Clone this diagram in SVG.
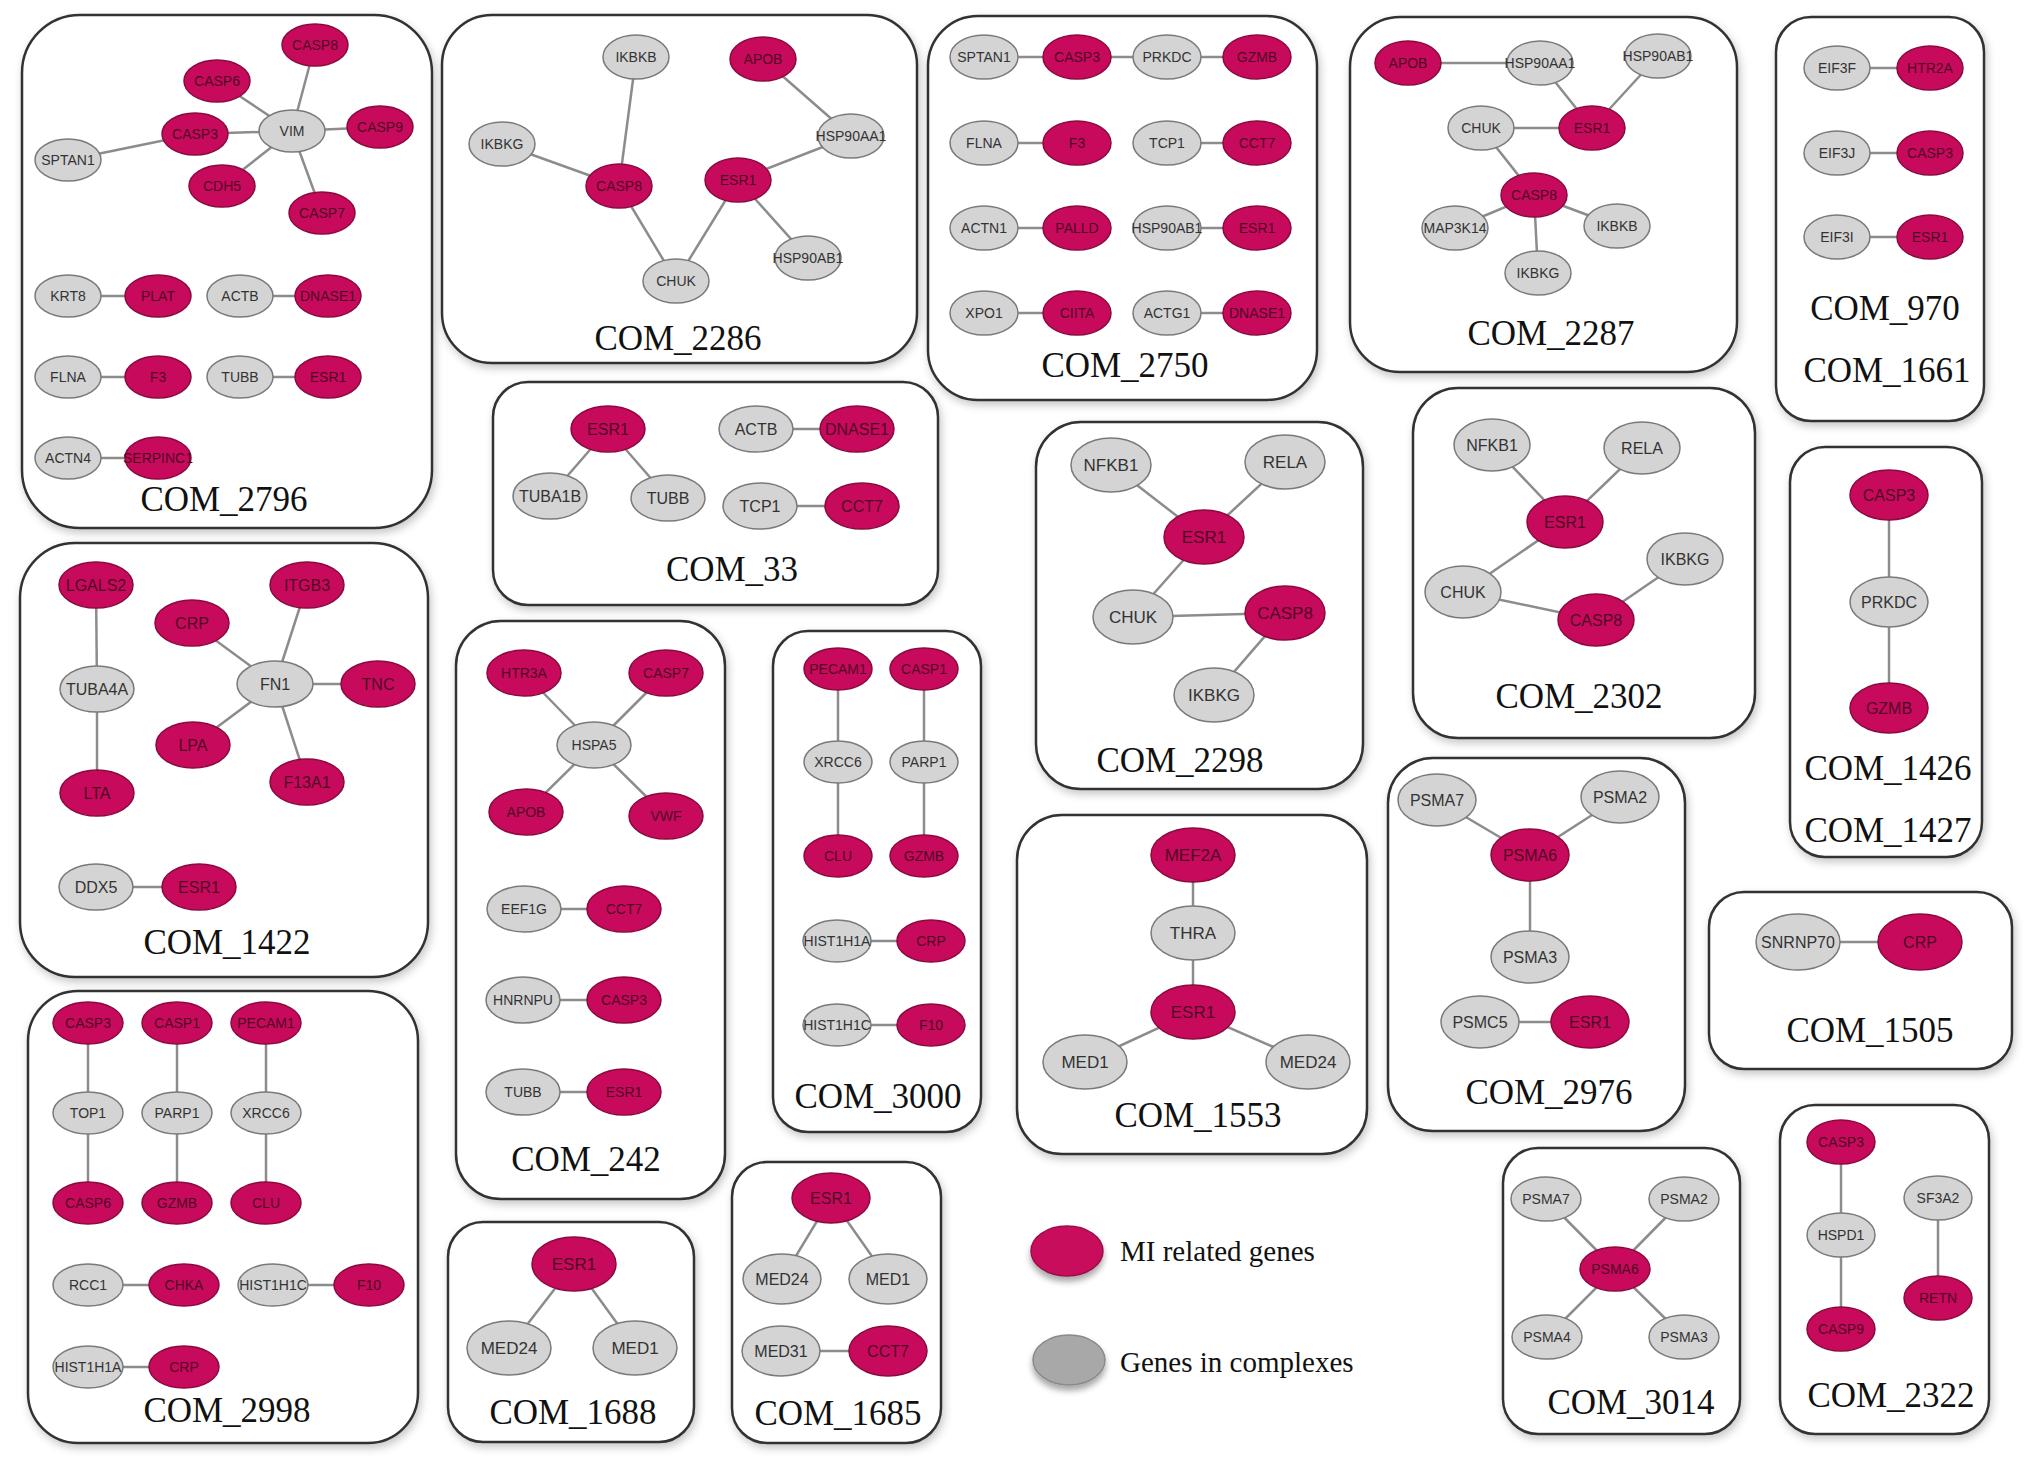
<svg xmlns="http://www.w3.org/2000/svg" width="2031" height="1469" viewBox="0 0 2031 1469">
<defs>
<filter id="sh" x="-10%" y="-10%" width="120%" height="120%"><feDropShadow dx="2" dy="4" stdDeviation="4" flood-color="#000" flood-opacity="0.22"/></filter>
<filter id="lsh" x="-30%" y="-30%" width="160%" height="170%"><feDropShadow dx="0" dy="5" stdDeviation="3" flood-color="#000" flood-opacity="0.35"/></filter>
<style>
.box{fill:#fff;stroke:#333;stroke-width:2.5;filter:url(#sh)}
.r{fill:#C80A5C;stroke:#8a0a3e;stroke-width:1.5}
.g{fill:#D4D4D4;stroke:#7a7a7a;stroke-width:1.5}
text{font-family:"Liberation Sans",Arial,sans-serif;text-anchor:middle}
.tr{fill:#4e0825}
.tg{fill:#333}
.s{font-size:14px}
.m{font-size:16px}
.l{font-size:17px}
.lab{font-family:"Liberation Serif","Times New Roman",serif;font-size:35px;fill:#111}
.leg{font-family:"Liberation Serif","Times New Roman",serif;font-size:29px;fill:#111;text-anchor:start}
#edges line{stroke:#8c8c8c;stroke-width:2.5}
</style>
</defs>
<rect width="2031" height="1469" fill="#fff"/>

<g id="boxes">
<g id="COM_2796"><rect class="box" x="22" y="15" width="410" height="513" rx="58"/><text class="lab" x="224" y="511">COM_2796</text></g>
<g id="COM_2286"><rect class="box" x="442" y="15" width="475" height="348" rx="50"/><text class="lab" x="678" y="350">COM_2286</text></g>
<g id="COM_2750"><rect class="box" x="928" y="16" width="389" height="384" rx="50"/><text class="lab" x="1125" y="377">COM_2750</text></g>
<g id="COM_2287"><rect class="box" x="1350" y="17" width="387" height="355" rx="50"/><text class="lab" x="1551" y="345">COM_2287</text></g>
<g id="COM_970"><rect class="box" x="1776" y="17" width="208" height="404" rx="35"/><text class="lab" x="1885" y="320">COM_970</text><text class="lab" x="1887" y="382">COM_1661</text></g>
<g id="COM_33"><rect class="box" x="493" y="382" width="445" height="223" rx="35"/><text class="lab" x="732" y="581">COM_33</text></g>
<g id="COM_1422"><rect class="box" x="20" y="543" width="408" height="434" rx="55"/><text class="lab" x="227" y="954">COM_1422</text></g>
<g id="COM_242"><rect class="box" x="456" y="621" width="269" height="578" rx="45"/><text class="lab" x="586" y="1171">COM_242</text></g>
<g id="COM_3000"><rect class="box" x="773" y="631" width="208" height="501" rx="35"/><text class="lab" x="878" y="1108">COM_3000</text></g>
<g id="COM_2998"><rect class="box" x="28" y="991" width="390" height="452" rx="50"/><text class="lab" x="227" y="1422">COM_2998</text></g>
<g id="COM_1688"><rect class="box" x="448" y="1222" width="246" height="220" rx="35"/><text class="lab" x="573" y="1424">COM_1688</text></g>
<g id="COM_1685"><rect class="box" x="732" y="1162" width="209" height="281" rx="35"/><text class="lab" x="838" y="1425">COM_1685</text></g>
<g id="COM_2298"><rect class="box" x="1036" y="422" width="327" height="367" rx="45"/><text class="lab" x="1180" y="772">COM_2298</text></g>
<g id="COM_2302"><rect class="box" x="1413" y="388" width="342" height="350" rx="45"/><text class="lab" x="1579" y="708">COM_2302</text></g>
<g id="COM_1426"><rect class="box" x="1790" y="447" width="192" height="410" rx="35"/><text class="lab" x="1888" y="780">COM_1426</text><text class="lab" x="1888" y="842">COM_1427</text></g>
<g id="COM_1553"><rect class="box" x="1017" y="815" width="350" height="339" rx="45"/><text class="lab" x="1198" y="1127">COM_1553</text></g>
<g id="COM_2976"><rect class="box" x="1388" y="758" width="297" height="373" rx="45"/><text class="lab" x="1549" y="1104">COM_2976</text></g>
<g id="COM_1505"><rect class="box" x="1709" y="892" width="303" height="177" rx="35"/><text class="lab" x="1870" y="1042">COM_1505</text></g>
<g id="COM_3014"><rect class="box" x="1503" y="1148" width="237" height="286" rx="35"/><text class="lab" x="1631" y="1414">COM_3014</text></g>
<g id="COM_2322"><rect class="box" x="1780" y="1105" width="209" height="329" rx="35"/><text class="lab" x="1891" y="1407">COM_2322</text></g>
</g>

<g id="edges">
<line x1="68" y1="160" x2="195" y2="134"/><line x1="195" y1="134" x2="292" y2="131"/><line x1="217" y1="81" x2="292" y2="131"/><line x1="315" y1="45" x2="292" y2="131"/><line x1="380" y1="127" x2="292" y2="131"/><line x1="222" y1="186" x2="292" y2="131"/><line x1="322" y1="213" x2="292" y2="131"/>
<line x1="68" y1="296" x2="158" y2="296"/><line x1="240" y1="296" x2="328" y2="296"/><line x1="68" y1="377" x2="158" y2="377"/><line x1="240" y1="377" x2="328" y2="377"/><line x1="68" y1="458" x2="158" y2="458"/>
<line x1="636" y1="57" x2="619" y2="186"/><line x1="502" y1="144" x2="619" y2="186"/><line x1="619" y1="186" x2="676" y2="281"/><line x1="676" y1="281" x2="738" y2="180"/><line x1="738" y1="180" x2="851" y2="136"/><line x1="738" y1="180" x2="808" y2="258"/><line x1="763" y1="59" x2="851" y2="136"/>
<line x1="984" y1="57" x2="1257" y2="57"/><line x1="984" y1="143" x2="1077" y2="143"/><line x1="1167" y1="143" x2="1257" y2="143"/><line x1="984" y1="228" x2="1077" y2="228"/><line x1="1167" y1="228" x2="1257" y2="228"/><line x1="984" y1="313" x2="1077" y2="313"/><line x1="1167" y1="313" x2="1257" y2="313"/>
<line x1="1408" y1="63" x2="1540" y2="63"/><line x1="1540" y1="63" x2="1592" y2="128"/><line x1="1658" y1="56" x2="1592" y2="128"/><line x1="1481" y1="128" x2="1592" y2="128"/><line x1="1481" y1="128" x2="1534" y2="195"/><line x1="1534" y1="195" x2="1455" y2="228"/><line x1="1534" y1="195" x2="1617" y2="226"/><line x1="1534" y1="195" x2="1538" y2="273"/>
<line x1="1837" y1="68" x2="1930" y2="68"/><line x1="1837" y1="153" x2="1930" y2="153"/><line x1="1837" y1="237" x2="1930" y2="237"/>
<line x1="608" y1="429" x2="550" y2="496"/><line x1="608" y1="429" x2="668" y2="498"/><line x1="756" y1="429" x2="857" y2="429"/><line x1="760" y1="506" x2="862" y2="506"/>
<line x1="96" y1="585" x2="97" y2="689"/><line x1="97" y1="689" x2="97" y2="793"/><line x1="192" y1="623" x2="275" y2="684"/><line x1="307" y1="585" x2="275" y2="684"/><line x1="378" y1="684" x2="275" y2="684"/><line x1="193" y1="745" x2="275" y2="684"/><line x1="307" y1="782" x2="275" y2="684"/><line x1="96" y1="887" x2="199" y2="887"/>
<line x1="524" y1="673" x2="594" y2="745"/><line x1="666" y1="673" x2="594" y2="745"/><line x1="526" y1="812" x2="594" y2="745"/><line x1="666" y1="816" x2="594" y2="745"/><line x1="524" y1="909" x2="624" y2="909"/><line x1="523" y1="1000" x2="624" y2="1000"/><line x1="523" y1="1092" x2="624" y2="1092"/>
<line x1="838" y1="669" x2="838" y2="856"/><line x1="924" y1="669" x2="924" y2="856"/><line x1="837" y1="941" x2="931" y2="941"/><line x1="837" y1="1025" x2="931" y2="1025"/>
<line x1="88" y1="1023" x2="88" y2="1203"/><line x1="177" y1="1023" x2="177" y2="1203"/><line x1="266" y1="1023" x2="266" y2="1203"/><line x1="88" y1="1285" x2="184" y2="1285"/><line x1="273" y1="1285" x2="369" y2="1285"/><line x1="88" y1="1367" x2="184" y2="1367"/>
<line x1="574" y1="1264" x2="509" y2="1348"/><line x1="574" y1="1264" x2="635" y2="1348"/>
<line x1="831" y1="1198" x2="782" y2="1279"/><line x1="831" y1="1198" x2="888" y2="1279"/><line x1="781" y1="1351" x2="888" y2="1351"/>
<line x1="1111" y1="465" x2="1204" y2="537"/><line x1="1285" y1="462" x2="1204" y2="537"/><line x1="1204" y1="537" x2="1133" y2="617"/><line x1="1133" y1="617" x2="1285" y2="613"/><line x1="1285" y1="613" x2="1214" y2="695"/>
<line x1="1492" y1="445" x2="1565" y2="522"/><line x1="1642" y1="448" x2="1565" y2="522"/><line x1="1565" y1="522" x2="1463" y2="592"/><line x1="1463" y1="592" x2="1596" y2="620"/><line x1="1596" y1="620" x2="1685" y2="559"/>
<line x1="1889" y1="495" x2="1889" y2="708"/>
<line x1="1193" y1="855" x2="1193" y2="1012"/><line x1="1193" y1="1012" x2="1085" y2="1062"/><line x1="1193" y1="1012" x2="1308" y2="1062"/>
<line x1="1437" y1="800" x2="1530" y2="855"/><line x1="1620" y1="797" x2="1530" y2="855"/><line x1="1530" y1="855" x2="1530" y2="957"/><line x1="1480" y1="1022" x2="1590" y2="1022"/>
<line x1="1798" y1="942" x2="1920" y2="942"/>
<line x1="1546" y1="1199" x2="1615" y2="1269"/><line x1="1684" y1="1199" x2="1615" y2="1269"/><line x1="1547" y1="1337" x2="1615" y2="1269"/><line x1="1684" y1="1337" x2="1615" y2="1269"/>
<line x1="1841" y1="1142" x2="1841" y2="1329"/><line x1="1938" y1="1198" x2="1938" y2="1298"/>
</g>

<g id="nodes">
<g id="c2796-CASP8"><ellipse class="r" cx="315" cy="45" rx="33" ry="21"/><text class="s tr" x="315" y="45" dy=".36em">CASP8</text></g>
<g id="c2796-CASP6"><ellipse class="r" cx="217" cy="81" rx="33" ry="21"/><text class="s tr" x="217" y="81" dy=".36em">CASP6</text></g>
<g id="c2796-VIM"><ellipse class="g" cx="292" cy="131" rx="33" ry="21"/><text class="s tg" x="292" y="131" dy=".36em">VIM</text></g>
<g id="c2796-CASP3"><ellipse class="r" cx="195" cy="134" rx="33" ry="21"/><text class="s tr" x="195" y="134" dy=".36em">CASP3</text></g>
<g id="c2796-CASP9"><ellipse class="r" cx="380" cy="127" rx="33" ry="21"/><text class="s tr" x="380" y="127" dy=".36em">CASP9</text></g>
<g id="c2796-SPTAN1"><ellipse class="g" cx="68" cy="160" rx="33" ry="21"/><text class="s tg" x="68" y="160" dy=".36em">SPTAN1</text></g>
<g id="c2796-CDH5"><ellipse class="r" cx="222" cy="186" rx="33" ry="21"/><text class="s tr" x="222" y="186" dy=".36em">CDH5</text></g>
<g id="c2796-CASP7"><ellipse class="r" cx="322" cy="213" rx="33" ry="21"/><text class="s tr" x="322" y="213" dy=".36em">CASP7</text></g>
<g id="c2796-KRT8"><ellipse class="g" cx="68" cy="296" rx="33" ry="21"/><text class="s tg" x="68" y="296" dy=".36em">KRT8</text></g>
<g id="c2796-PLAT"><ellipse class="r" cx="158" cy="296" rx="33" ry="21"/><text class="s tr" x="158" y="296" dy=".36em">PLAT</text></g>
<g id="c2796-ACTB"><ellipse class="g" cx="240" cy="296" rx="33" ry="21"/><text class="s tg" x="240" y="296" dy=".36em">ACTB</text></g>
<g id="c2796-DNASE1"><ellipse class="r" cx="328" cy="296" rx="33" ry="21"/><text class="s tr" x="328" y="296" dy=".36em">DNASE1</text></g>
<g id="c2796-FLNA"><ellipse class="g" cx="68" cy="377" rx="33" ry="21"/><text class="s tg" x="68" y="377" dy=".36em">FLNA</text></g>
<g id="c2796-F3"><ellipse class="r" cx="158" cy="377" rx="33" ry="21"/><text class="s tr" x="158" y="377" dy=".36em">F3</text></g>
<g id="c2796-TUBB"><ellipse class="g" cx="240" cy="377" rx="33" ry="21"/><text class="s tg" x="240" y="377" dy=".36em">TUBB</text></g>
<g id="c2796-ESR1"><ellipse class="r" cx="328" cy="377" rx="33" ry="21"/><text class="s tr" x="328" y="377" dy=".36em">ESR1</text></g>
<g id="c2796-ACTN4"><ellipse class="g" cx="68" cy="458" rx="33" ry="21"/><text class="s tg" x="68" y="458" dy=".36em">ACTN4</text></g>
<g id="c2796-SERPINC1"><ellipse class="r" cx="158" cy="458" rx="33" ry="21"/><text class="s tr" x="158" y="458" dy=".36em">SERPINC1</text></g>

<g id="c2286-IKBKB"><ellipse class="g" cx="636" cy="57" rx="33" ry="22"/><text class="s tg" x="636" y="57" dy=".36em">IKBKB</text></g>
<g id="c2286-APOB"><ellipse class="r" cx="763" cy="59" rx="33" ry="22"/><text class="s tr" x="763" y="59" dy=".36em">APOB</text></g>
<g id="c2286-IKBKG"><ellipse class="g" cx="502" cy="144" rx="33" ry="22"/><text class="s tg" x="502" y="144" dy=".36em">IKBKG</text></g>
<g id="c2286-HSP90AA1"><ellipse class="g" cx="851" cy="136" rx="33" ry="22"/><text class="s tg" x="851" y="136" dy=".36em">HSP90AA1</text></g>
<g id="c2286-CASP8"><ellipse class="r" cx="619" cy="186" rx="33" ry="22"/><text class="s tr" x="619" y="186" dy=".36em">CASP8</text></g>
<g id="c2286-ESR1"><ellipse class="r" cx="738" cy="180" rx="33" ry="22"/><text class="s tr" x="738" y="180" dy=".36em">ESR1</text></g>
<g id="c2286-CHUK"><ellipse class="g" cx="676" cy="281" rx="33" ry="22"/><text class="s tg" x="676" y="281" dy=".36em">CHUK</text></g>
<g id="c2286-HSP90AB1"><ellipse class="g" cx="808" cy="258" rx="33" ry="22"/><text class="s tg" x="808" y="258" dy=".36em">HSP90AB1</text></g>

<g id="c2750-SPTAN1"><ellipse class="g" cx="984" cy="57" rx="34" ry="22"/><text class="s tg" x="984" y="57" dy=".36em">SPTAN1</text></g>
<g id="c2750-CASP3"><ellipse class="r" cx="1077" cy="57" rx="34" ry="22"/><text class="s tr" x="1077" y="57" dy=".36em">CASP3</text></g>
<g id="c2750-PRKDC"><ellipse class="g" cx="1167" cy="57" rx="34" ry="22"/><text class="s tg" x="1167" y="57" dy=".36em">PRKDC</text></g>
<g id="c2750-GZMB"><ellipse class="r" cx="1257" cy="57" rx="34" ry="22"/><text class="s tr" x="1257" y="57" dy=".36em">GZMB</text></g>
<g id="c2750-FLNA"><ellipse class="g" cx="984" cy="143" rx="34" ry="22"/><text class="s tg" x="984" y="143" dy=".36em">FLNA</text></g>
<g id="c2750-F3"><ellipse class="r" cx="1077" cy="143" rx="34" ry="22"/><text class="s tr" x="1077" y="143" dy=".36em">F3</text></g>
<g id="c2750-TCP1"><ellipse class="g" cx="1167" cy="143" rx="34" ry="22"/><text class="s tg" x="1167" y="143" dy=".36em">TCP1</text></g>
<g id="c2750-CCT7"><ellipse class="r" cx="1257" cy="143" rx="34" ry="22"/><text class="s tr" x="1257" y="143" dy=".36em">CCT7</text></g>
<g id="c2750-ACTN1"><ellipse class="g" cx="984" cy="228" rx="34" ry="22"/><text class="s tg" x="984" y="228" dy=".36em">ACTN1</text></g>
<g id="c2750-PALLD"><ellipse class="r" cx="1077" cy="228" rx="34" ry="22"/><text class="s tr" x="1077" y="228" dy=".36em">PALLD</text></g>
<g id="c2750-HSP90AB1"><ellipse class="g" cx="1167" cy="228" rx="34" ry="22"/><text class="s tg" x="1167" y="228" dy=".36em">HSP90AB1</text></g>
<g id="c2750-ESR1"><ellipse class="r" cx="1257" cy="228" rx="34" ry="22"/><text class="s tr" x="1257" y="228" dy=".36em">ESR1</text></g>
<g id="c2750-XPO1"><ellipse class="g" cx="984" cy="313" rx="34" ry="22"/><text class="s tg" x="984" y="313" dy=".36em">XPO1</text></g>
<g id="c2750-CIITA"><ellipse class="r" cx="1077" cy="313" rx="34" ry="22"/><text class="s tr" x="1077" y="313" dy=".36em">CIITA</text></g>
<g id="c2750-ACTG1"><ellipse class="g" cx="1167" cy="313" rx="34" ry="22"/><text class="s tg" x="1167" y="313" dy=".36em">ACTG1</text></g>
<g id="c2750-DNASE1"><ellipse class="r" cx="1257" cy="313" rx="34" ry="22"/><text class="s tr" x="1257" y="313" dy=".36em">DNASE1</text></g>

<g id="c2287-APOB"><ellipse class="r" cx="1408" cy="63" rx="33" ry="22"/><text class="s tr" x="1408" y="63" dy=".36em">APOB</text></g>
<g id="c2287-HSP90AA1"><ellipse class="g" cx="1540" cy="63" rx="33" ry="22"/><text class="s tg" x="1540" y="63" dy=".36em">HSP90AA1</text></g>
<g id="c2287-HSP90AB1"><ellipse class="g" cx="1658" cy="56" rx="33" ry="22"/><text class="s tg" x="1658" y="56" dy=".36em">HSP90AB1</text></g>
<g id="c2287-CHUK"><ellipse class="g" cx="1481" cy="128" rx="33" ry="22"/><text class="s tg" x="1481" y="128" dy=".36em">CHUK</text></g>
<g id="c2287-ESR1"><ellipse class="r" cx="1592" cy="128" rx="33" ry="22"/><text class="s tr" x="1592" y="128" dy=".36em">ESR1</text></g>
<g id="c2287-CASP8"><ellipse class="r" cx="1534" cy="195" rx="33" ry="22"/><text class="s tr" x="1534" y="195" dy=".36em">CASP8</text></g>
<g id="c2287-MAP3K14"><ellipse class="g" cx="1455" cy="228" rx="33" ry="22"/><text class="s tg" x="1455" y="228" dy=".36em">MAP3K14</text></g>
<g id="c2287-IKBKB"><ellipse class="g" cx="1617" cy="226" rx="33" ry="22"/><text class="s tg" x="1617" y="226" dy=".36em">IKBKB</text></g>
<g id="c2287-IKBKG"><ellipse class="g" cx="1538" cy="273" rx="33" ry="22"/><text class="s tg" x="1538" y="273" dy=".36em">IKBKG</text></g>

<g id="c970-EIF3F"><ellipse class="g" cx="1837" cy="68" rx="33" ry="22"/><text class="s tg" x="1837" y="68" dy=".36em">EIF3F</text></g>
<g id="c970-HTR2A"><ellipse class="r" cx="1930" cy="68" rx="33" ry="22"/><text class="s tr" x="1930" y="68" dy=".36em">HTR2A</text></g>
<g id="c970-EIF3J"><ellipse class="g" cx="1837" cy="153" rx="33" ry="22"/><text class="s tg" x="1837" y="153" dy=".36em">EIF3J</text></g>
<g id="c970-CASP3"><ellipse class="r" cx="1930" cy="153" rx="33" ry="22"/><text class="s tr" x="1930" y="153" dy=".36em">CASP3</text></g>
<g id="c970-EIF3I"><ellipse class="g" cx="1837" cy="237" rx="33" ry="22"/><text class="s tg" x="1837" y="237" dy=".36em">EIF3I</text></g>
<g id="c970-ESR1"><ellipse class="r" cx="1930" cy="237" rx="33" ry="22"/><text class="s tr" x="1930" y="237" dy=".36em">ESR1</text></g>

<g id="c33-ESR1"><ellipse class="r" cx="608" cy="429" rx="37" ry="23"/><text class="m tr" x="608" y="429" dy=".36em">ESR1</text></g>
<g id="c33-TUBA1B"><ellipse class="g" cx="550" cy="496" rx="37" ry="23"/><text class="m tg" x="550" y="496" dy=".36em">TUBA1B</text></g>
<g id="c33-TUBB"><ellipse class="g" cx="668" cy="498" rx="37" ry="23"/><text class="m tg" x="668" y="498" dy=".36em">TUBB</text></g>
<g id="c33-ACTB"><ellipse class="g" cx="756" cy="429" rx="37" ry="23"/><text class="m tg" x="756" y="429" dy=".36em">ACTB</text></g>
<g id="c33-DNASE1"><ellipse class="r" cx="857" cy="429" rx="37" ry="23"/><text class="m tr" x="857" y="429" dy=".36em">DNASE1</text></g>
<g id="c33-TCP1"><ellipse class="g" cx="760" cy="506" rx="37" ry="23"/><text class="m tg" x="760" y="506" dy=".36em">TCP1</text></g>
<g id="c33-CCT7"><ellipse class="r" cx="862" cy="506" rx="37" ry="23"/><text class="m tr" x="862" y="506" dy=".36em">CCT7</text></g>

<g id="c1422-LGALS2"><ellipse class="r" cx="96" cy="585" rx="37" ry="23"/><text class="m tr" x="96" y="585" dy=".36em">LGALS2</text></g>
<g id="c1422-ITGB3"><ellipse class="r" cx="307" cy="585" rx="37" ry="23"/><text class="m tr" x="307" y="585" dy=".36em">ITGB3</text></g>
<g id="c1422-CRP"><ellipse class="r" cx="192" cy="623" rx="37" ry="23"/><text class="m tr" x="192" y="623" dy=".36em">CRP</text></g>
<g id="c1422-TUBA4A"><ellipse class="g" cx="97" cy="689" rx="37" ry="23"/><text class="m tg" x="97" y="689" dy=".36em">TUBA4A</text></g>
<g id="c1422-FN1"><ellipse class="g" cx="275" cy="684" rx="38" ry="23"/><text class="m tg" x="275" y="684" dy=".36em">FN1</text></g>
<g id="c1422-TNC"><ellipse class="r" cx="378" cy="684" rx="37" ry="23"/><text class="m tr" x="378" y="684" dy=".36em">TNC</text></g>
<g id="c1422-LPA"><ellipse class="r" cx="193" cy="745" rx="37" ry="23"/><text class="m tr" x="193" y="745" dy=".36em">LPA</text></g>
<g id="c1422-F13A1"><ellipse class="r" cx="307" cy="782" rx="37" ry="23"/><text class="m tr" x="307" y="782" dy=".36em">F13A1</text></g>
<g id="c1422-LTA"><ellipse class="r" cx="97" cy="793" rx="37" ry="23"/><text class="m tr" x="97" y="793" dy=".36em">LTA</text></g>
<g id="c1422-DDX5"><ellipse class="g" cx="96" cy="887" rx="37" ry="23"/><text class="m tg" x="96" y="887" dy=".36em">DDX5</text></g>
<g id="c1422-ESR1"><ellipse class="r" cx="199" cy="887" rx="37" ry="23"/><text class="m tr" x="199" y="887" dy=".36em">ESR1</text></g>

<g id="c242-HTR3A"><ellipse class="r" cx="524" cy="673" rx="37" ry="23"/><text class="s tr" x="524" y="673" dy=".36em">HTR3A</text></g>
<g id="c242-CASP7"><ellipse class="r" cx="666" cy="673" rx="37" ry="23"/><text class="s tr" x="666" y="673" dy=".36em">CASP7</text></g>
<g id="c242-HSPA5"><ellipse class="g" cx="594" cy="745" rx="37" ry="23"/><text class="s tg" x="594" y="745" dy=".36em">HSPA5</text></g>
<g id="c242-APOB"><ellipse class="r" cx="526" cy="812" rx="37" ry="23"/><text class="s tr" x="526" y="812" dy=".36em">APOB</text></g>
<g id="c242-VWF"><ellipse class="r" cx="666" cy="816" rx="37" ry="23"/><text class="s tr" x="666" y="816" dy=".36em">VWF</text></g>
<g id="c242-EEF1G"><ellipse class="g" cx="524" cy="909" rx="37" ry="23"/><text class="s tg" x="524" y="909" dy=".36em">EEF1G</text></g>
<g id="c242-CCT7"><ellipse class="r" cx="624" cy="909" rx="37" ry="23"/><text class="s tr" x="624" y="909" dy=".36em">CCT7</text></g>
<g id="c242-HNRNPU"><ellipse class="g" cx="523" cy="1000" rx="37" ry="23"/><text class="s tg" x="523" y="1000" dy=".36em">HNRNPU</text></g>
<g id="c242-CASP3"><ellipse class="r" cx="624" cy="1000" rx="37" ry="23"/><text class="s tr" x="624" y="1000" dy=".36em">CASP3</text></g>
<g id="c242-TUBB"><ellipse class="g" cx="523" cy="1092" rx="37" ry="23"/><text class="s tg" x="523" y="1092" dy=".36em">TUBB</text></g>
<g id="c242-ESR1"><ellipse class="r" cx="624" cy="1092" rx="37" ry="23"/><text class="s tr" x="624" y="1092" dy=".36em">ESR1</text></g>

<g id="c3000-PECAM1"><ellipse class="r" cx="838" cy="669" rx="34" ry="21"/><text class="s tr" x="838" y="669" dy=".36em">PECAM1</text></g>
<g id="c3000-CASP1"><ellipse class="r" cx="924" cy="669" rx="34" ry="21"/><text class="s tr" x="924" y="669" dy=".36em">CASP1</text></g>
<g id="c3000-XRCC6"><ellipse class="g" cx="838" cy="762" rx="34" ry="21"/><text class="s tg" x="838" y="762" dy=".36em">XRCC6</text></g>
<g id="c3000-PARP1"><ellipse class="g" cx="924" cy="762" rx="34" ry="21"/><text class="s tg" x="924" y="762" dy=".36em">PARP1</text></g>
<g id="c3000-CLU"><ellipse class="r" cx="838" cy="856" rx="34" ry="21"/><text class="s tr" x="838" y="856" dy=".36em">CLU</text></g>
<g id="c3000-GZMB"><ellipse class="r" cx="924" cy="856" rx="34" ry="21"/><text class="s tr" x="924" y="856" dy=".36em">GZMB</text></g>
<g id="c3000-HIST1H1A"><ellipse class="g" cx="837" cy="941" rx="34" ry="21"/><text class="s tg" x="837" y="941" dy=".36em">HIST1H1A</text></g>
<g id="c3000-CRP"><ellipse class="r" cx="931" cy="941" rx="34" ry="21"/><text class="s tr" x="931" y="941" dy=".36em">CRP</text></g>
<g id="c3000-HIST1H1C"><ellipse class="g" cx="837" cy="1025" rx="34" ry="21"/><text class="s tg" x="837" y="1025" dy=".36em">HIST1H1C</text></g>
<g id="c3000-F10"><ellipse class="r" cx="931" cy="1025" rx="34" ry="21"/><text class="s tr" x="931" y="1025" dy=".36em">F10</text></g>

<g id="c2998-CASP3"><ellipse class="r" cx="88" cy="1023" rx="35" ry="21"/><text class="s tr" x="88" y="1023" dy=".36em">CASP3</text></g>
<g id="c2998-CASP1"><ellipse class="r" cx="177" cy="1023" rx="35" ry="21"/><text class="s tr" x="177" y="1023" dy=".36em">CASP1</text></g>
<g id="c2998-PECAM1"><ellipse class="r" cx="266" cy="1023" rx="35" ry="21"/><text class="s tr" x="266" y="1023" dy=".36em">PECAM1</text></g>
<g id="c2998-TOP1"><ellipse class="g" cx="88" cy="1113" rx="35" ry="21"/><text class="s tg" x="88" y="1113" dy=".36em">TOP1</text></g>
<g id="c2998-PARP1"><ellipse class="g" cx="177" cy="1113" rx="35" ry="21"/><text class="s tg" x="177" y="1113" dy=".36em">PARP1</text></g>
<g id="c2998-XRCC6"><ellipse class="g" cx="266" cy="1113" rx="35" ry="21"/><text class="s tg" x="266" y="1113" dy=".36em">XRCC6</text></g>
<g id="c2998-CASP6"><ellipse class="r" cx="88" cy="1203" rx="35" ry="21"/><text class="s tr" x="88" y="1203" dy=".36em">CASP6</text></g>
<g id="c2998-GZMB"><ellipse class="r" cx="177" cy="1203" rx="35" ry="21"/><text class="s tr" x="177" y="1203" dy=".36em">GZMB</text></g>
<g id="c2998-CLU"><ellipse class="r" cx="266" cy="1203" rx="35" ry="21"/><text class="s tr" x="266" y="1203" dy=".36em">CLU</text></g>
<g id="c2998-RCC1"><ellipse class="g" cx="88" cy="1285" rx="35" ry="21"/><text class="s tg" x="88" y="1285" dy=".36em">RCC1</text></g>
<g id="c2998-CHKA"><ellipse class="r" cx="184" cy="1285" rx="35" ry="21"/><text class="s tr" x="184" y="1285" dy=".36em">CHKA</text></g>
<g id="c2998-HIST1H1C"><ellipse class="g" cx="273" cy="1285" rx="35" ry="21"/><text class="s tg" x="273" y="1285" dy=".36em">HIST1H1C</text></g>
<g id="c2998-F10"><ellipse class="r" cx="369" cy="1285" rx="35" ry="21"/><text class="s tr" x="369" y="1285" dy=".36em">F10</text></g>
<g id="c2998-HIST1H1A"><ellipse class="g" cx="88" cy="1367" rx="35" ry="21"/><text class="s tg" x="88" y="1367" dy=".36em">HIST1H1A</text></g>
<g id="c2998-CRP"><ellipse class="r" cx="184" cy="1367" rx="35" ry="21"/><text class="s tr" x="184" y="1367" dy=".36em">CRP</text></g>

<g id="c1688-ESR1"><ellipse class="r" cx="574" cy="1264" rx="42" ry="27"/><text class="l tr" x="574" y="1264" dy=".36em">ESR1</text></g>
<g id="c1688-MED24"><ellipse class="g" cx="509" cy="1348" rx="42" ry="27"/><text class="l tg" x="509" y="1348" dy=".36em">MED24</text></g>
<g id="c1688-MED1"><ellipse class="g" cx="635" cy="1348" rx="42" ry="27"/><text class="l tg" x="635" y="1348" dy=".36em">MED1</text></g>

<g id="c1685-ESR1"><ellipse class="r" cx="831" cy="1198" rx="39" ry="25"/><text class="m tr" x="831" y="1198" dy=".36em">ESR1</text></g>
<g id="c1685-MED24"><ellipse class="g" cx="782" cy="1279" rx="39" ry="25"/><text class="m tg" x="782" y="1279" dy=".36em">MED24</text></g>
<g id="c1685-MED1"><ellipse class="g" cx="888" cy="1279" rx="39" ry="25"/><text class="m tg" x="888" y="1279" dy=".36em">MED1</text></g>
<g id="c1685-MED31"><ellipse class="g" cx="781" cy="1351" rx="39" ry="25"/><text class="m tg" x="781" y="1351" dy=".36em">MED31</text></g>
<g id="c1685-CCT7"><ellipse class="r" cx="888" cy="1351" rx="39" ry="25"/><text class="m tr" x="888" y="1351" dy=".36em">CCT7</text></g>

<g id="c2298-NFKB1"><ellipse class="g" cx="1111" cy="465" rx="40" ry="27"/><text class="l tg" x="1111" y="465" dy=".36em">NFKB1</text></g>
<g id="c2298-RELA"><ellipse class="g" cx="1285" cy="462" rx="40" ry="27"/><text class="l tg" x="1285" y="462" dy=".36em">RELA</text></g>
<g id="c2298-ESR1"><ellipse class="r" cx="1204" cy="537" rx="40" ry="27"/><text class="l tr" x="1204" y="537" dy=".36em">ESR1</text></g>
<g id="c2298-CHUK"><ellipse class="g" cx="1133" cy="617" rx="40" ry="27"/><text class="l tg" x="1133" y="617" dy=".36em">CHUK</text></g>
<g id="c2298-CASP8"><ellipse class="r" cx="1285" cy="613" rx="40" ry="27"/><text class="l tr" x="1285" y="613" dy=".36em">CASP8</text></g>
<g id="c2298-IKBKG"><ellipse class="g" cx="1214" cy="695" rx="40" ry="27"/><text class="l tg" x="1214" y="695" dy=".36em">IKBKG</text></g>

<g id="c2302-NFKB1"><ellipse class="g" cx="1492" cy="445" rx="38" ry="26"/><text class="m tg" x="1492" y="445" dy=".36em">NFKB1</text></g>
<g id="c2302-RELA"><ellipse class="g" cx="1642" cy="448" rx="38" ry="26"/><text class="m tg" x="1642" y="448" dy=".36em">RELA</text></g>
<g id="c2302-ESR1"><ellipse class="r" cx="1565" cy="522" rx="38" ry="26"/><text class="m tr" x="1565" y="522" dy=".36em">ESR1</text></g>
<g id="c2302-IKBKG"><ellipse class="g" cx="1685" cy="559" rx="38" ry="26"/><text class="m tg" x="1685" y="559" dy=".36em">IKBKG</text></g>
<g id="c2302-CHUK"><ellipse class="g" cx="1463" cy="592" rx="38" ry="26"/><text class="m tg" x="1463" y="592" dy=".36em">CHUK</text></g>
<g id="c2302-CASP8"><ellipse class="r" cx="1596" cy="620" rx="38" ry="26"/><text class="m tr" x="1596" y="620" dy=".36em">CASP8</text></g>

<g id="c1426-CASP3"><ellipse class="r" cx="1889" cy="495" rx="39" ry="25"/><text class="m tr" x="1889" y="495" dy=".36em">CASP3</text></g>
<g id="c1426-PRKDC"><ellipse class="g" cx="1889" cy="602" rx="39" ry="25"/><text class="m tg" x="1889" y="602" dy=".36em">PRKDC</text></g>
<g id="c1426-GZMB"><ellipse class="r" cx="1889" cy="708" rx="39" ry="25"/><text class="m tr" x="1889" y="708" dy=".36em">GZMB</text></g>

<g id="c1553-MEF2A"><ellipse class="r" cx="1193" cy="855" rx="42" ry="27"/><text class="l tr" x="1193" y="855" dy=".36em">MEF2A</text></g>
<g id="c1553-THRA"><ellipse class="g" cx="1193" cy="933" rx="42" ry="27"/><text class="l tg" x="1193" y="933" dy=".36em">THRA</text></g>
<g id="c1553-ESR1"><ellipse class="r" cx="1193" cy="1012" rx="42" ry="27"/><text class="l tr" x="1193" y="1012" dy=".36em">ESR1</text></g>
<g id="c1553-MED1"><ellipse class="g" cx="1085" cy="1062" rx="42" ry="27"/><text class="l tg" x="1085" y="1062" dy=".36em">MED1</text></g>
<g id="c1553-MED24"><ellipse class="g" cx="1308" cy="1062" rx="42" ry="27"/><text class="l tg" x="1308" y="1062" dy=".36em">MED24</text></g>

<g id="c2976-PSMA7"><ellipse class="g" cx="1437" cy="800" rx="39" ry="26"/><text class="m tg" x="1437" y="800" dy=".36em">PSMA7</text></g>
<g id="c2976-PSMA2"><ellipse class="g" cx="1620" cy="797" rx="39" ry="26"/><text class="m tg" x="1620" y="797" dy=".36em">PSMA2</text></g>
<g id="c2976-PSMA6"><ellipse class="r" cx="1530" cy="855" rx="39" ry="26"/><text class="m tr" x="1530" y="855" dy=".36em">PSMA6</text></g>
<g id="c2976-PSMA3"><ellipse class="g" cx="1530" cy="957" rx="39" ry="26"/><text class="m tg" x="1530" y="957" dy=".36em">PSMA3</text></g>
<g id="c2976-PSMC5"><ellipse class="g" cx="1480" cy="1022" rx="39" ry="26"/><text class="m tg" x="1480" y="1022" dy=".36em">PSMC5</text></g>
<g id="c2976-ESR1"><ellipse class="r" cx="1590" cy="1022" rx="39" ry="26"/><text class="m tr" x="1590" y="1022" dy=".36em">ESR1</text></g>

<g id="c1505-SNRNP70"><ellipse class="g" cx="1798" cy="942" rx="42" ry="28"/><text class="m tg" x="1798" y="942" dy=".36em">SNRNP70</text></g>
<g id="c1505-CRP"><ellipse class="r" cx="1920" cy="942" rx="42" ry="28"/><text class="m tr" x="1920" y="942" dy=".36em">CRP</text></g>

<g id="c3014-PSMA7"><ellipse class="g" cx="1546" cy="1199" rx="35" ry="22"/><text class="s tg" x="1546" y="1199" dy=".36em">PSMA7</text></g>
<g id="c3014-PSMA2"><ellipse class="g" cx="1684" cy="1199" rx="35" ry="22"/><text class="s tg" x="1684" y="1199" dy=".36em">PSMA2</text></g>
<g id="c3014-PSMA6"><ellipse class="r" cx="1615" cy="1269" rx="35" ry="22"/><text class="s tr" x="1615" y="1269" dy=".36em">PSMA6</text></g>
<g id="c3014-PSMA4"><ellipse class="g" cx="1547" cy="1337" rx="35" ry="22"/><text class="s tg" x="1547" y="1337" dy=".36em">PSMA4</text></g>
<g id="c3014-PSMA3"><ellipse class="g" cx="1684" cy="1337" rx="35" ry="22"/><text class="s tg" x="1684" y="1337" dy=".36em">PSMA3</text></g>

<g id="c2322-CASP3"><ellipse class="r" cx="1841" cy="1142" rx="34" ry="22"/><text class="s tr" x="1841" y="1142" dy=".36em">CASP3</text></g>
<g id="c2322-HSPD1"><ellipse class="g" cx="1841" cy="1235" rx="34" ry="22"/><text class="s tg" x="1841" y="1235" dy=".36em">HSPD1</text></g>
<g id="c2322-CASP9"><ellipse class="r" cx="1841" cy="1329" rx="34" ry="22"/><text class="s tr" x="1841" y="1329" dy=".36em">CASP9</text></g>
<g id="c2322-SF3A2"><ellipse class="g" cx="1938" cy="1198" rx="34" ry="22"/><text class="s tg" x="1938" y="1198" dy=".36em">SF3A2</text></g>
<g id="c2322-RETN"><ellipse class="r" cx="1938" cy="1298" rx="34" ry="22"/><text class="s tr" x="1938" y="1298" dy=".36em">RETN</text></g>
</g>

<g id="legend">
<g id="legend-mi"><ellipse cx="1067" cy="1251" rx="36" ry="25" fill="#C80A5C" stroke="#9a1048" stroke-width="1.5" filter="url(#lsh)"/><text class="leg" x="1120" y="1261">MI related genes</text></g>
<g id="legend-complex"><ellipse cx="1069" cy="1360" rx="36" ry="25" fill="#A8A8A8" stroke="#8a8a8a" stroke-width="1.5" filter="url(#lsh)"/><text class="leg" x="1120" y="1372">Genes in complexes</text></g>
</g>
</svg>
